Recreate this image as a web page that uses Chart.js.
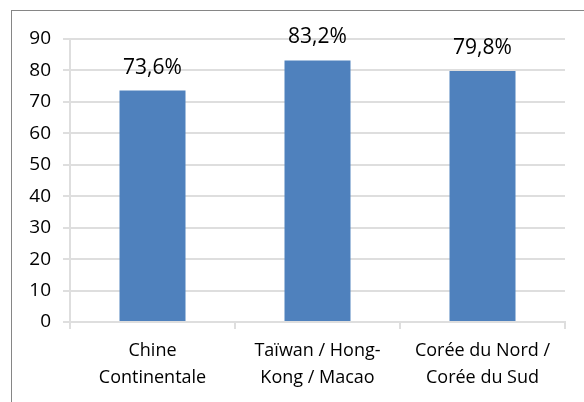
<!DOCTYPE html>
<html>
<head>
<meta charset="utf-8">
<script src="https://cdn.jsdelivr.net/npm/chart.js@4/dist/chart.umd.min.js"></script>
<style>
  html, body { margin: 0; padding: 0; background: #fff; }
  #wrap { width: 584px; height: 402px; }
</style>
</head>
<body>
<div id="wrap"><canvas id="chart" width="584" height="402"></canvas></div>
<script>
// Chart data
const categories = [
    ['Chine', 'Continentale'],
    ['Taïwan / Hong-', 'Kong / Macao'],
    ['Corée du Nord /', 'Corée du Sud']
];
const values = [73.6, 83.2, 79.8];
const valueLabels = ['73,6%', '83,2%', '79,8%'];
const yTicks = [0, 10, 20, 30, 40, 50, 60, 70, 80, 90];

const FONT = '"Open Sans", "Liberation Sans", sans-serif';
const GRID = '#dedede';

// Outer frame like the spreadsheet chart box
const framePlugin = {
    id: 'frame',
    beforeDraw(chart) {
        const ctx = chart.ctx;
        ctx.save();
        ctx.fillStyle = '#fff';
        ctx.fillRect(0, 0, chart.width, chart.height);
        ctx.strokeStyle = '#868686';
        ctx.lineWidth = 1;
        ctx.strokeRect(11.5, 10.5, 700, 600);
        ctx.restore();
    }
};

// Value labels above bars
const valueLabelPlugin = {
    id: 'valueLabels',
    afterDatasetsDraw(chart) {
        const ctx = chart.ctx;
        const meta = chart.getDatasetMeta(0);
        ctx.save();
        ctx.font = '21px ' + FONT;
        ctx.fillStyle = '#000';
        ctx.textAlign = 'center';
        ctx.textBaseline = 'middle';
        meta.data.forEach((bar, i) => {
            ctx.fillText(valueLabels[i], bar.x, bar.y - 23);
        });
        ctx.restore();
    }
};

new Chart(document.getElementById('chart'), {
    type: 'bar',
    data: {
        labels: categories,
        datasets: [{
            data: values,
            backgroundColor: '#4f81bd',
            borderWidth: 0,
            barPercentage: 0.4,
            categoryPercentage: 1.0
        }]
    },
    options: {
        responsive: false,
        animation: false,
        layout: { padding: { top: 39, right: 19, left: 12, bottom: 0 } },
        plugins: {
            legend: { display: false },
            tooltip: { enabled: false }
        },
        scales: {
            x: {
                grid: {
                    color: GRID,
                    lineWidth: 2,
                    drawOnChartArea: false,
                    drawTicks: true,
                    tickLength: 7,
                    offset: true
                },
                border: { color: GRID, width: 2 },
                ticks: {
                    color: '#000',
                    font: { family: FONT, size: 18, lineHeight: 1.5 },
                    padding: 8,
                    maxRotation: 0,
                    autoSkip: false
                },
                afterFit(axis) { axis.height = 80; }
            },
            y: {
                min: 0,
                max: 90,
                afterBuildTicks(axis) {
                    axis.ticks = yTicks.map(v => ({ value: v }));
                },
                grid: {
                    color: GRID,
                    lineWidth: 2,
                    tickLength: 7
                },
                border: { color: GRID, width: 2 },
                ticks: {
                    color: '#000',
                    font: { family: FONT, size: 19 },
                    padding: 12
                },
                afterFit(axis) { axis.width = 58; }
            }
        }
    },
    plugins: [framePlugin, valueLabelPlugin]
});
</script>
</body>
</html>
